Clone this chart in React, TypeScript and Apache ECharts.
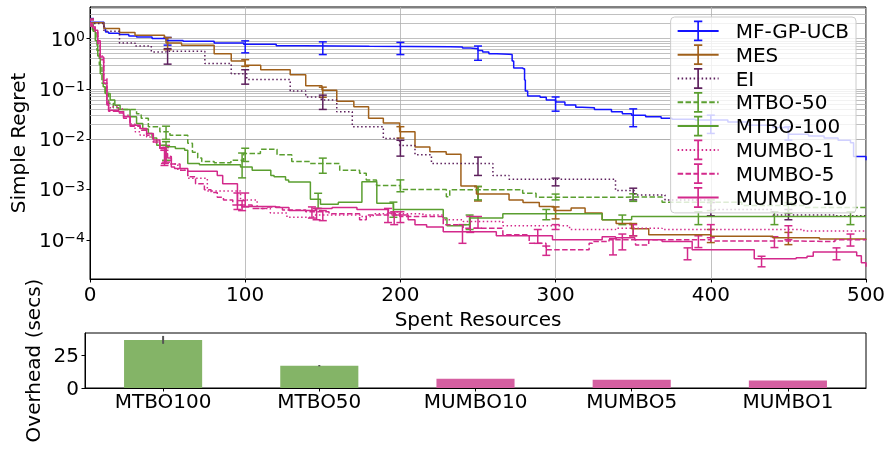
import React, { useEffect, useRef } from "react";
import * as echarts from "echarts";

const FONT = "DejaVu Sans";

// ---------- top panel: simple regret vs spent resources ----------
const SERIES_NAMES = ["MF-GP-UCB", "MES", "EI", "MTBO-50", "MTBO-100", "MUMBO-1", "MUMBO-5", "MUMBO-10"];
const SERIES_COLORS = ["#1414ff", "#a0601a", "#5c1f5c", "#5a9e2f", "#5a9e2f", "#d3298b", "#d3298b", "#d3298b"];
const SERIES_DASH: (number[] | "solid")[] = ["solid", "solid", [1.5, 2.5], [5.5, 2.4], "solid", [1.5, 2.5], [5.5, 2.4], "solid"];

const MF_GP_UCB = [
  [0, 2.1], [9, 1.6], [10, 1.35], [12, 1.27], [19, 1.2], [25, 1.12], [30, 1.08], [40, 1.0], [49, 0.92], [60, 0.88],
  [80, 0.82], [99, 0.77], [120, 0.72], [138, 0.7], [180, 0.69], [232, 0.68], [240, 0.65], [245, 0.63], [250, 0.58],
  [253, 0.54], [257, 0.5], [262, 0.49], [270, 0.48], [272, 0.36], [273, 0.26], [279, 0.25], [280, 0.15], [280.5, 0.091],
  [282, 0.072], [290, 0.068], [294, 0.06], [300, 0.055], [306, 0.048], [313, 0.043], [317, 0.042], [325, 0.039],
  [336, 0.035], [343, 0.032], [349, 0.03], [358, 0.028], [368, 0.026], [375, 0.025], [390, 0.024], [411, 0.022],
  [424, 0.019], [440, 0.017], [450, 0.0125], [463, 0.0115], [473, 0.0105], [482, 0.0095], [490, 0.0085], [492, 0.0045],
  [500, 0.0038],
];
const MES = [
  [0, 2.07], [9, 1.58], [19, 1.32], [29, 1.16], [48, 1.05], [49, 0.82], [59, 0.74], [80, 0.5], [91, 0.36], [100, 0.295],
  [110, 0.24], [129, 0.19], [139, 0.115], [149.5, 0.094], [159, 0.057], [170, 0.044], [179.5, 0.026], [189, 0.021],
  [199.5, 0.0141], [209.4, 0.007], [219, 0.0056], [229.5, 0.005], [239, 0.00117], [249, 0.00081], [270, 0.00062],
  [279, 0.00055], [289.5, 0.00046], [299, 0.00038], [310, 0.00043], [319, 0.00034], [330, 0.00025], [339, 0.00021],
  [349, 0.000166], [360, 0.000126], [400, 0.000118], [440, 0.00011], [470, 0.000104], [500, 0.0001],
];
const EI = [
  [0, 2.0], [9, 1.4], [19, 0.82], [29, 0.71], [39.5, 0.54], [49, 0.56], [74, 0.32], [91, 0.2], [101, 0.153], [129, 0.091],
  [139, 0.069], [149, 0.06], [159, 0.035], [169, 0.0177], [189, 0.0103], [199.5, 0.0075], [209.4, 0.0049], [220, 0.0033],
  [259.6, 0.0019], [270, 0.0016], [338.6, 0.00095], [351, 0.00078], [370.5, 0.00062], [400, 0.0004], [440, 0.00031],
  [480, 0.0003], [500, 0.00028],
];
const MTBO_50 = [
  [0, 2.0], [2, 1.4], [4.5, 0.58], [6, 0.3], [7.7, 0.13], [9.8, 0.082], [12, 0.052], [15, 0.042], [18.4, 0.039], [30, 0.032],
  [33, 0.026], [37.6, 0.0177], [45, 0.014], [51.5, 0.012], [63, 0.0083], [66, 0.0055], [69.4, 0.0042], [72, 0.0036],
  [80, 0.0034], [90.8, 0.0038], [99, 0.0052], [109.8, 0.0063], [120.5, 0.0049], [130, 0.0036], [141.7, 0.0033],
  [160.9, 0.0024], [173.7, 0.0021], [178, 0.00155], [184.6, 0.0012], [200, 0.001], [229.6, 0.00072], [231.8, 0.00099],
  [278.8, 0.00084], [287.4, 0.0007], [330, 0.00071], [368.6, 0.00056], [420, 0.00048], [460, 0.00044], [500, 0.00042],
];
const MTBO_100 = [
  [0, 2.0], [1.5, 1.5], [3.4, 0.92], [5, 0.45], [6.6, 0.2], [8.5, 0.11], [9.8, 0.081], [13, 0.06], [16, 0.047],
  [19.4, 0.039], [25.8, 0.028], [30, 0.0206], [34, 0.016], [37.6, 0.013], [40, 0.0105], [43, 0.0076], [49.4, 0.0071],
  [55, 0.0065], [61, 0.006], [63, 0.0033], [70.5, 0.0031], [97, 0.0028], [104.5, 0.0024], [116.5, 0.0019],
  [118.6, 0.0018], [126, 0.00155], [128, 0.0014], [142, 0.00064], [148.5, 0.00051], [160, 0.00056], [175.2, 0.00142],
  [184.8, 0.00053], [195.5, 0.0004], [227.6, 0.00027], [230, 0.00019], [240, 0.0002], [244.6, 0.00027], [266, 0.00033],
  [330, 0.00025], [349, 0.00029], [500, 0.00029],
];
const MUMBO_1 = [
  [0, 2.0], [1.5, 1.7], [3.4, 1.4], [5, 0.85], [6.6, 0.45], [8.8, 0.16], [10.9, 0.06], [12, 0.042], [15, 0.045],
  [18.4, 0.04], [21.6, 0.03], [25.8, 0.02], [29, 0.014], [32.3, 0.012], [36.5, 0.011], [40.8, 0.0085], [45, 0.0068],
  [48.3, 0.0045], [52, 0.0032], [56.6, 0.0024], [63, 0.00167], [75.6, 0.00093], [97, 0.00062], [107.7, 0.00042],
  [116.2, 0.00034], [126.9, 0.00028], [144, 0.00031], [174, 0.00029], [182.5, 0.00033], [214.5, 0.00031],
  [227.6, 0.00025], [240.4, 0.00023], [266, 0.00019], [309, 0.00016], [338.6, 0.00017], [368.6, 0.00016],
  [420, 0.00016], [460, 0.00015], [500, 0.00015],
];
const MUMBO_5 = [
  [0, 2.0], [1.5, 1.6], [3.4, 1.3], [5, 0.8], [6.6, 0.38], [8.8, 0.13], [10.9, 0.048], [12, 0.036], [18.4, 0.033],
  [21.6, 0.026], [25.8, 0.018], [32.3, 0.015], [36.5, 0.012], [40.8, 0.0088], [45, 0.006], [48.3, 0.0045], [52.4, 0.0032],
  [58, 0.0024], [63, 0.0018], [68, 0.0013], [73.7, 0.00099], [78, 0.00087], [82, 0.0007], [86, 0.00062], [92, 0.00049],
  [104.5, 0.00042], [113, 0.00045], [124, 0.00039], [139, 0.00036], [154, 0.00033], [173.7, 0.00025], [178, 0.00031],
  [199.6, 0.00029], [227.6, 0.0002], [240.4, 0.00017], [266, 0.000126], [283, 0.000085], [293.8, 0.000063],
  [321.6, 0.000085], [323.7, 0.000092], [334.4, 0.0001], [351.5, 0.000079], [360, 0.0001], [400, 0.000095],
  [450, 0.000092], [480, 0.0001], [500, 0.0001],
];
const MUMBO_10 = [
  [0, 2.0], [1.5, 1.7], [3.4, 1.46], [5, 0.9], [6.6, 0.43], [8.8, 0.149], [10.9, 0.052], [12, 0.0375], [18.4, 0.035],
  [21.6, 0.028], [25.8, 0.019], [32.3, 0.0163], [36.5, 0.013], [40.8, 0.0096], [45, 0.0066], [48.3, 0.0052], [50, 0.0042],
  [52.4, 0.0028], [54.5, 0.0026], [63, 0.0023], [82, 0.0019], [85.5, 0.0013], [95, 0.00049], [98, 0.00046],
  [119.7, 0.00044], [128.2, 0.00038], [145.3, 0.00042], [156, 0.00044], [172, 0.0004], [192.3, 0.00034],
  [196.6, 0.00031], [205, 0.00025], [209.4, 0.0002], [216.9, 0.00018], [227.6, 0.000145], [261.8, 0.00012],
  [298, 0.0001], [330, 0.000115], [338.6, 0.00011], [351, 0.0001], [368.6, 0.000092], [388, 0.000063],
  [428, 0.000042], [455, 0.000044], [462, 0.000047], [466, 0.000057], [494, 0.000048], [497, 0.000035], [500, 0.000029],
];

// error bars: [x, low, high]
const ERR_MF_GP_UCB = [
  [0, 1.8, 2.5], [50, 0.74, 1.05], [100, 0.52, 0.9], [150, 0.48, 0.86], [200, 0.48, 0.84], [250, 0.37, 0.71],
  [300, 0.036, 0.069], [350, 0.0177, 0.04], [400, 0.013, 0.03], [450, 0.0096, 0.0177],
];
const ERR_MES = [
  [0, 1.8, 2.4], [50, 0.6, 1.05], [100, 0.28, 0.38], [150, 0.068, 0.108], [200, 0.0105, 0.0177], [250, 0.00059, 0.00114],
  [300, 0.00026, 0.00045], [350, 0.00012, 0.00021], [400, 0.000088, 0.00016], [450, 0.00008, 0.00014],
];
const ERR_EI = [
  [0, 1.8, 2.4], [50, 0.31, 0.63], [100, 0.124, 0.24], [150, 0.039, 0.075], [200, 0.0046, 0.0095], [250, 0.0019, 0.0044],
  [300, 0.00118, 0.00168], [350, 0.00062, 0.00106], [400, 0.0003, 0.00055], [450, 0.00025, 0.0004],
];
const ERR_MTBO_50 = [
  [0, 1.8, 2.4], [49, 0.0099, 0.0181], [100, 0.0036, 0.0066], [150, 0.0021, 0.0042], [200, 0.0009, 0.00155],
  [250, 0.00062, 0.00115], [300, 0.00062, 0.00081], [350, 0.00058, 0.00082], [400, 0.00038, 0.00062], [450, 0.00034, 0.00055],
];
const ERR_MTBO_100 = [
  [0, 1.8, 2.4], [49, 0.0038, 0.0089], [98, 0.0017, 0.0053], [147, 0.00042, 0.00084], [195.5, 0.00028, 0.00056],
  [244.6, 0.00016, 0.00031], [294, 0.00025, 0.0004], [343, 0.0002, 0.00031], [392, 0.0002, 0.00036],
  [441, 0.0002, 0.00036], [490, 0.0002, 0.00036],
];
const ERR_MUMBO_1 = [
  [0, 1.8, 2.4], [49, 0.0035, 0.0075], [100, 0.00045, 0.00085], [150, 0.00024, 0.00038], [200, 0.00022, 0.00036],
  [250, 0.00017, 0.00029], [300, 0.00016, 0.0002], [350, 0.00012, 0.0002], [400, 0.00011, 0.0002], [450, 0.0001, 0.00019],
];
const ERR_MUMBO_5 = [
  [0, 1.8, 2.4], [48, 0.003, 0.006], [98, 0.00038, 0.0006], [146, 0.00025, 0.00042], [196, 0.0002, 0.00036],
  [245, 0.00014, 0.00029], [294, 0.000049, 0.000075], [343, 0.000063, 0.00013], [392, 0.00007, 0.00012],
  [441, 0.00007, 0.000115], [490, 0.000075, 0.00013],
];
const ERR_MUMBO_10 = [
  [0, 1.8, 2.4], [48.3, 0.0033, 0.0068], [95, 0.0004, 0.00085], [143, 0.00027, 0.00045], [192, 0.00022, 0.00042],
  [240, 0.000085, 0.0002], [288.5, 0.000085, 0.00016], [337, 0.00005, 0.000105], [385, 0.00004, 0.000069],
  [432.7, 0.000029, 0.000047], [481, 0.00004, 0.000069],
];

const SERIES_DATA = [MF_GP_UCB, MES, EI, MTBO_50, MTBO_100, MUMBO_1, MUMBO_5, MUMBO_10];
const SERIES_ERR = [ERR_MF_GP_UCB, ERR_MES, ERR_EI, ERR_MTBO_50, ERR_MTBO_100, ERR_MUMBO_1, ERR_MUMBO_5, ERR_MUMBO_10];

const X_MIN = 0;
const X_MAX = 500;
const X_INTERVAL = 100;
const Y_MIN = 1.66e-5;
const Y_MAX = 4.24;
const GRID_DECADES = [1e-5, 1e-4, 1e-3, 1e-2, 1e-1, 1];
const GRID_MANTISSAS = [1, 2, 3, 4, 5, 6, 7, 8, 9];

// ---------- bottom panel: overhead ----------
const BAR_CATS = ["MTBO100", "MTBO50", "MUMBO10", "MUMBO5", "MUMBO1"];
const BAR_VALUES = [36.4, 16.9, 7.0, 6.3, 5.6];
const BAR_ERR_LOW = [33.4, 16.4, 7.0, 6.3, 5.6];
const BAR_ERR_HIGH = [39.4, 17.4, 7.0, 6.3, 5.6];
const BAR_COLORS = ["#84b467", "#84b467", "#d55fa1", "#d55fa1", "#d55fa1"];
const BAR_Y_MAX = 41.6;
const BAR_Y_INTERVAL = 25;

// legend icon: filled error-bar "I"; the lone moveTo points keep its bounding box square
const ERR_ICON =
  "path://M0,10 M6,0 L14,0 L14,1.7 L10.8,1.7 L10.8,18.3 L14,18.3 L14,20 L6,20 L6,18.3 L9.2,18.3 L9.2,1.7 L6,1.7 Z M20,10";

function errRender(color: string, cap: number, width: number) {
  return (params: any, api: any) => {
    const x = api.value(0);
    const p1 = api.coord([x, api.value(1)]);
    const p2 = api.coord([x, api.value(2)]);
    const style = { stroke: color, lineWidth: width };
    const children: any[] = [
      { type: "line", shape: { x1: p1[0], y1: p1[1], x2: p2[0], y2: p2[1] }, style },
    ];
    if (cap > 0) {
      children.push({ type: "line", shape: { x1: p1[0] - cap, y1: p1[1], x2: p1[0] + cap, y2: p1[1] }, style });
      children.push({ type: "line", shape: { x1: p2[0] - cap, y1: p2[1], x2: p2[0] + cap, y2: p2[1] }, style });
    }
    return { type: "group", children };
  };
}

export default function App() {
  const ref = useRef<HTMLDivElement>(null);
  useEffect(() => {
    if (!ref.current) return;
    const chart = echarts.init(ref.current, null, { renderer: "svg" });

    const gridValues: number[] = [];
    GRID_DECADES.forEach((d) =>
      GRID_MANTISSAS.forEach((m) => {
        const v = d * m;
        if (v > Y_MIN && v < Y_MAX) gridValues.push(v);
      })
    );

    const series: any[] = [
      {
        type: "line",
        name: "grid",
        xAxisIndex: 0,
        yAxisIndex: 0,
        data: [],
        silent: true,
        markLine: {
          silent: true,
          z: 1,
          symbol: ["none", "none"],
          label: { show: false },
          lineStyle: { color: "#b0b0b0", width: 0.8, type: "solid" },
          emphasis: { disabled: true },
          data: gridValues.map((v) => ({ yAxis: v })),
        },
      },
    ];

    SERIES_NAMES.forEach((name, i) => {
      series.push({
        type: "line",
        name,
        xAxisIndex: 0,
        yAxisIndex: 0,
        data: SERIES_DATA[i],
        step: "end",
        showSymbol: false,
        symbol: ERR_ICON,
        symbolSize: 10,
        silent: true,
        z: 3,
        lineStyle: { color: SERIES_COLORS[i], width: 1.5, type: SERIES_DASH[i] },
        itemStyle: { color: SERIES_COLORS[i] },
        emphasis: { disabled: true },
      });
      series.push({
        type: "custom",
        name: name + " err",
        xAxisIndex: 0,
        yAxisIndex: 0,
        data: SERIES_ERR[i],
        encode: { x: 0, y: [1, 2] },
        clip: true,
        silent: true,
        z: 3,
        renderItem: errRender(SERIES_COLORS[i], 4, 1.5),
      });
    });

    series.push({
      type: "bar",
      name: "overhead",
      xAxisIndex: 1,
      yAxisIndex: 1,
      barWidth: "50%",
      silent: true,
      data: BAR_VALUES.map((v, i) => ({ value: v, itemStyle: { color: BAR_COLORS[i] } })),
    });
    series.push({
      type: "custom",
      name: "overhead err",
      xAxisIndex: 1,
      yAxisIndex: 1,
      silent: true,
      z: 4,
      data: BAR_CATS.map((c, i) => [i, BAR_ERR_LOW[i], BAR_ERR_HIGH[i]]),
      encode: { x: 0, y: [1, 2] },
      renderItem: errRender("#555555", 0, 2),
    });

    const axisText = { fontFamily: FONT, fontSize: 20, color: "#000" };

    chart.setOption({
      animation: false,
      textStyle: { fontFamily: FONT, color: "#000" },
      grid: [
        { left: 85, right: 26, top: 7, height: 272, show: true, borderColor: "#000", borderWidth: 1 },
        { left: 85, right: 26, top: 333, height: 55, show: true, borderColor: "#000", borderWidth: 1 },
      ],
      legend: {
        orient: "vertical",
        right: 36,
        top: 17,
        data: SERIES_NAMES.map((n, i) => ({
          name: n,
          itemStyle: { color: SERIES_COLORS[i], borderWidth: 0 },
        })),
        selectedMode: false,
        itemWidth: 41,
        itemHeight: 26,
        itemGap: 3,
        padding: [3.5, 7, 5, 6],
        backgroundColor: "rgba(255,255,255,0.8)",
        borderColor: "#cccccc",
        borderWidth: 1,
        borderRadius: 4,
        itemStyle: { borderWidth: 0 },
        lineStyle: { width: 2 },
        textStyle: { fontFamily: FONT, fontSize: 20, color: "#000", padding: [0, 0, 0, 12] },
      },
      xAxis: [
        {
          type: "value",
          gridIndex: 0,
          min: X_MIN,
          max: X_MAX,
          interval: X_INTERVAL,
          name: "Spent Resources",
          nameLocation: "middle",
          nameGap: 26,
          nameTextStyle: axisText,
          axisLine: { show: true, lineStyle: { color: "#000", width: 1 } },
          axisTick: { show: true, length: 3.5, lineStyle: { color: "#000" } },
          axisLabel: { ...axisText, margin: 5 },
          splitLine: { show: true, lineStyle: { color: "#b0b0b0", width: 0.8 } },
        },
        {
          type: "category",
          gridIndex: 1,
          data: BAR_CATS,
          axisLine: { show: true, lineStyle: { color: "#000", width: 1 } },
          axisTick: { show: true, alignWithLabel: true, length: 3.5, lineStyle: { color: "#000" } },
          axisLabel: { ...axisText, margin: 3, interval: 0 },
          splitLine: { show: false },
        },
      ],
      yAxis: [
        {
          type: "log",
          logBase: 10,
          gridIndex: 0,
          min: Y_MIN,
          max: Y_MAX,
          name: "Simple Regret",
          nameLocation: "middle",
          nameGap: 62,
          nameTextStyle: axisText,
          axisLine: { show: true, lineStyle: { color: "#000", width: 1 } },
          axisTick: { show: true, length: 3.5, lineStyle: { color: "#000" } },
          splitLine: { show: false },
          axisLabel: {
            showMinLabel: false,
            showMaxLabel: false,
            margin: 5,
            formatter: (v: number) => {
              const e = Math.round(Math.log10(v));
              const s = e < 0 ? "\u2212" + -e : String(e);
              return "{b|10}{e|" + s + "}";
            },
            rich: {
              b: { fontFamily: FONT, fontSize: 20, color: "#000", lineHeight: 20, padding: [3, 0, 0, 0], verticalAlign: "bottom" },
              e: { fontFamily: FONT, fontSize: 14, color: "#000", lineHeight: 14, verticalAlign: "top" },
            },
          },
        },
        {
          type: "value",
          gridIndex: 1,
          min: 0,
          max: BAR_Y_MAX,
          interval: BAR_Y_INTERVAL,
          name: "Overhead (secs)",
          nameLocation: "middle",
          nameGap: 38,
          nameTextStyle: axisText,
          axisLine: { show: true, lineStyle: { color: "#000", width: 1 } },
          axisTick: { show: true, length: 3.5, lineStyle: { color: "#000" } },
          axisLabel: { ...axisText, margin: 6, showMaxLabel: false },
          splitLine: { show: false },
        },
      ],
      series,
    });

    return () => chart.dispose();
  }, []);

  return <div ref={ref} style={{ position: "fixed", left: 0, top: 0, width: 892, height: 450 }} />;
}
